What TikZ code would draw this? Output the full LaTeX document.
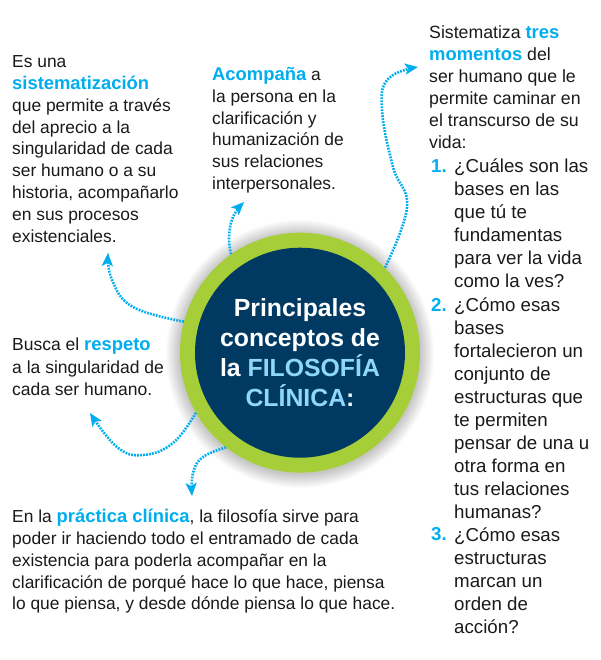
\documentclass[tikz,border=0pt]{standalone}
\usepackage{fontspec}
\setmainfont{Liberation Sans}
\usetikzlibrary{arrows.meta}
\definecolor{navy}{HTML}{003A63}
\definecolor{leaf}{HTML}{A6CE39}
\definecolor{sky}{HTML}{00AEEF}
\definecolor{pale}{HTML}{8FD8F8}
\definecolor{ink}{HTML}{1A1A1A}
\newcommand{\hl}[1]{{\fontsize{18.4}{\baselineskip}\selectfont\textcolor{sky}{\bfseries #1}}}
\tikzset{
  body/.style={font=\fontsize{17.4}{21.8}\selectfont,text=ink,align=left,anchor=north west,inner sep=0pt},
  rightbody/.style={body,font=\fontsize{17.7}{22.1}\selectfont},
  listbody/.style={body,font=\fontsize{18.7}{23}\selectfont},
  listnum/.style={font=\fontsize{18.7}{23}\selectfont\bfseries,text=sky,anchor=north west,inner sep=0pt},
  flow/.style={draw=sky,line width=2.6pt,dash pattern=on 1.8pt off 1.2pt,-{Stealth[length=13pt,width=11pt,inset=3pt]}},
  ring/.style={circle,fill=leaf,minimum size=240pt,inner sep=0pt},
  core/.style={circle,fill=navy,minimum size=210pt,inner sep=0pt},
  title/.style={font=\fontsize{24.8}{30}\selectfont\bfseries,text=white,align=center}
}
\begin{document}
\begin{tikzpicture}[x=1pt,y=-1pt]
\useasboundingbox (0,0) rectangle (600,660);
\fill[white] (0,0) rectangle (600,660);
\foreach \r in {121,122,...,134}{\fill[black,opacity=0.014] (300,354) circle[radius=\r pt];}
\node[ring] (c) at (300,352.7) {};
\node[core] (k) at (300,352.7) {};
\node[title] (t) at (300,353) {Principales\\conceptos de\\la \textcolor{pale}{FILOSOFÍA}\\\textcolor{pale}{CLÍNICA}\textcolor{white!85!pale}{:}};
\node[body] (a) at (12,55.5) {Es una\\\hl{sistematización}\\que permite a través\\del aprecio a la\\singularidad de cada\\ser humano o a su\\historia, acompañarlo\\en sus procesos\\existenciales.};
\node[body] (b) at (212,67) {\hl{Acompaña} a\\la persona en la\\clarificación y\\humanización de\\sus relaciones\\interpersonales.};
\node[body,font=\fontsize{17.5}{22.5}\selectfont] (d) at (12,338) {Busca el \hl{respeto}\\a la singularidad de\\cada ser humano.};
\node[body] (e) at (12,509) {En la \hl{práctica clínica}, la filosofía sirve para\\poder ir haciendo todo el entramado de cada\\existencia para poderla acompañar en la\\clarificación de porqué hace lo que hace, piensa\\lo que piensa, y desde dónde piensa lo que hace.};
\node[rightbody] (f) at (429,25) {Sistematiza \hl{tres}\\\hl{momentos} del\\ser humano que le\\permite caminar en\\el transcurso de su\\vida:};
\node[listnum] (n1) at (431,159) {1.};
\node[listbody] (g1) at (454,159) {¿Cuáles son las\\bases en las\\que tú te\\fundamentas\\para ver la vida\\como la ves?};
\node[listnum] (n2) at (431,298) {2.};
\node[listbody] (g2) at (454,298) {¿Cómo esas\\bases\\fortalecieron un\\conjunto de\\estructuras que\\te permiten\\pensar de una u\\otra forma en\\tus relaciones\\humanas?};
\node[listnum] (n3) at (431,527.5) {3.};
\node[listbody] (g3) at (454,527.5) {¿Cómo esas\\estructuras\\marcan un\\orden de\\acción?};
\coordinate (ef) at (418,67);
\coordinate (eb) at (244,202);
\coordinate (ea) at (108,253);
\coordinate (ed) at (90,413);
\coordinate (ee) at (192,496);
\draw[flow] plot[smooth,tension=0.7] coordinates {(c.45) (407,207) (393,167) (382,110) (388,79) (ef)};
\draw[flow] plot[smooth,tension=0.7] coordinates {(c.125) (229,237) (233,217) (eb)};
\draw[flow] plot[smooth,tension=0.7] coordinates {(c.165) (133,307) (112,280) (ea)};
\draw[flow] plot[smooth,tension=0.7] coordinates {(c.210) (173,443) (143,455) (117,447) (ed)};
\draw[flow] plot[smooth,tension=0.7] coordinates {(c.232) (203,457) (193,473) (ee)};
\end{tikzpicture}
\end{document}
